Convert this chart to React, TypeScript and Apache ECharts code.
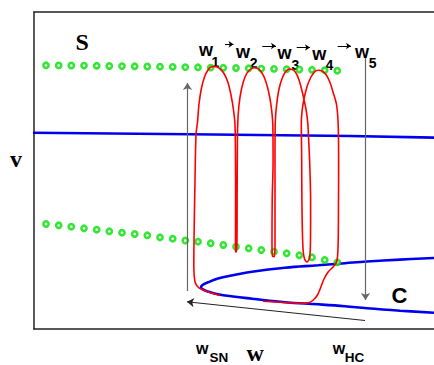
import React, { useEffect, useRef } from "react";
import * as echarts from "echarts";

// periodic-orbit extrema (green rings): shared w positions, upper / lower v
const dotW = [46, 58.7, 71.3, 84, 96.7, 109.3, 122, 134.7, 147.3, 160, 172.7, 185.3, 198, 210.7, 223.3, 236, 248.7, 261.3, 274, 286.7, 299.3, 312, 324.7, 337.3];
const upperDotV = [65.3, 65.4, 65.5, 65.6, 65.8, 66, 66.1, 66.3, 66.5, 66.7, 66.9, 67.1, 67.3, 67.6, 67.8, 68, 68.3, 68.6, 68.9, 69.2, 69.5, 69.8, 70.2, 70.7];
const lowerDotV = [224, 225.3, 226.7, 228.3, 229.7, 231.3, 232.7, 234, 235.3, 237.3, 238.7, 240.5, 241.7, 243.3, 245, 246.7, 248.3, 250, 251.7, 253.3, 255.3, 257.3, 260, 262.3];

// blue equilibrium branches
const upperBranch = [[33, 132.8], [190, 134.3], [350, 136], [434, 137.6]];
const foldBranch = [
  [434, 258], [400, 259.6], [367, 261.5], [345, 263.2], [318, 265.3], [285, 267.7], [252, 271.7], [233, 275.3], [218, 278.6], [208, 282.3], [202.5, 285], [201, 287.3],
  [203, 289.5], [209, 291.8], [218, 294.3], [233, 296.5], [252, 298.7], [285, 302.3], [318, 304.3], [345, 306.2], [367, 308.3], [400, 310.7], [434, 312.7],
];

// red trajectory
const trajectory = [
  [220, 295.5], [210, 292.5], [202, 289.5], [197.5, 286.5], [195.2, 282.5], [194.2, 276], [193.8, 265], [194, 240], [195, 180], [196, 135], [197.5, 122],
  [199, 104], [201.3, 89], [204.3, 77.5], [208, 70], [212, 66.6], [216, 66.6], [220, 68.8], [224, 73.5], [227.8, 82], [231, 95], [233.5, 110], [235, 125],
  [235.5, 160], [235.6, 200], [235.5, 240], [235.6, 251.5], [236.4, 252], [237, 240], [237.1, 200], [237.3, 160], [237.7, 125], [239, 105], [241.5, 89],
  [245, 77], [249.3, 70.3], [254, 67.8], [258.3, 68.8], [262, 73], [265.3, 80], [268.3, 90.5], [271, 105], [272.8, 125], [273.1, 160], [272.2, 200],
  [272, 245], [272.6, 256.4], [274.3, 256.6], [275, 245], [275, 200], [275, 160], [275.2, 125], [276.6, 105], [279, 89], [282.5, 77.5], [286, 71.2],
  [289.3, 69.1], [292.5, 69.6], [295.5, 72.3], [298.5, 78.5], [301.3, 88], [304, 99.5], [306.3, 111], [307.8, 123], [308.4, 135], [309.6, 160],
  [310.6, 200], [310.5, 240], [309.6, 257.5], [307, 262], [304.4, 258.5], [302.8, 245], [301.9, 200], [301.7, 160], [301.4, 135], [301.3, 123],
  [302.2, 110], [304.2, 98], [307.2, 86], [311, 77], [314.8, 71.6], [318.3, 70.2], [322, 71], [326, 74.5], [329.8, 82], [333.3, 93], [336.6, 105],
  [338.2, 125], [338.6, 160], [338.5, 200], [338.1, 245], [336.8, 261.5], [333.3, 266.7], [328.3, 271.7], [324, 279], [320.5, 288], [317.5, 295],
  [313.3, 300], [308.3, 302.7], [300, 303.2], [285, 302.5], [263, 301.2],
];

// arrows
const riseArrow = [[187.5, 291], [187.5, 83]];
const dropArrow = [[365.5, 58], [365.5, 300]];
const slideArrow = [[365, 320.5], [187, 301.8]];
const stepArrows = [
  [[225, 44.3], [233.5, 44.3]],
  [[262.3, 46], [276, 46]],
  [[296.7, 47.5], [310, 47.5]],
  [[337.7, 46], [351, 46]],
];

const SANS = "'Liberation Sans', Arial, Helvetica, sans-serif";
const SERIF = "'Liberation Serif', 'Times New Roman', serif";

function label(text: string, x: number, base: number, size: number, serif = false) {
  const c = serif ? 0.3375 : 0.3465;
  return {
    type: "text",
    x,
    y: base - c * size,
    silent: true,
    style: {
      text,
      fontSize: size,
      fontWeight: "bold",
      fontFamily: serif ? SERIF : SANS,
      fill: "#000",
      textAlign: "left",
      textVerticalAlign: "middle",
      align: "left",
      verticalAlign: "middle",
    },
  };
}

export default function App() {
  const ref = useRef<HTMLDivElement>(null);
  useEffect(() => {
    if (!ref.current) return;
    const chart = echarts.init(ref.current, undefined, { renderer: "svg" });
    const axisBase = {
      type: "value" as const,
      min: 34,
      max: 434,
      axisTick: { show: false },
      axisLabel: { show: false },
      splitLine: { show: false },
      axisLine: { show: true, lineStyle: { color: "#222", width: 1.5 } },
    };
    chart.setOption({
      animation: false,
      backgroundColor: "#fff",
      grid: { left: 34, right: 0, top: 12, bottom: 36 },
      xAxis: [
        { ...axisBase, position: "bottom" },
        { ...axisBase, position: "top" },
      ],
      yAxis: {
        type: "value",
        inverse: true,
        min: 12,
        max: 329,
        axisTick: { show: false },
        axisLabel: { show: false },
        splitLine: { show: false },
        axisLine: { show: true, lineStyle: { color: "#222", width: 1.5 } },
      },
      series: [
        {
          type: "line",
          data: upperBranch,
          showSymbol: false,
          lineStyle: { color: "#0000ee", width: 2.6 },
          z: 2,
        },
        {
          type: "line",
          data: foldBranch,
          smooth: 0.4,
          showSymbol: false,
          lineStyle: { color: "#0000ee", width: 2.6 },
          z: 2,
        },
        {
          type: "scatter",
          data: dotW.map((w, i) => [w, upperDotV[i]]),
          symbol: "circle",
          symbolSize: 5.2,
          itemStyle: { color: "#fff", borderColor: "#00e000", borderWidth: 2.6 },
          z: 3,
        },
        {
          type: "scatter",
          data: dotW.map((w, i) => [w, lowerDotV[i]]),
          symbol: "circle",
          symbolSize: 5.2,
          itemStyle: { color: "#fff", borderColor: "#00e000", borderWidth: 2.6 },
          z: 3,
        },
        {
          type: "line",
          data: trajectory,
          smooth: 0.3,
          showSymbol: false,
          lineStyle: { color: "#ff0000", width: 1.6 },
          z: 4,
        },
        {
          type: "lines",
          coordinateSystem: "cartesian2d",
          symbol: ["none", "arrow"],
          symbolSize: 7,
          lineStyle: { color: "#666", width: 1.2, opacity: 1 },
          data: [{ coords: riseArrow }, { coords: dropArrow }],
          z: 5,
        },
        {
          type: "lines",
          coordinateSystem: "cartesian2d",
          symbol: ["none", "arrow"],
          symbolSize: 7,
          lineStyle: { color: "#222", width: 1, opacity: 1 },
          data: [{ coords: slideArrow }],
          z: 5,
        },
        {
          type: "lines",
          coordinateSystem: "cartesian2d",
          symbol: ["none", "arrow"],
          symbolSize: 5,
          lineStyle: { color: "#000", width: 1.2, opacity: 1 },
          data: stepArrows.map((c) => ({ coords: c })),
          z: 5,
        },
      ],
      graphic: [
        label("w", 199, 56.6, 18),
        label("1", 211.5, 66.7, 14),
        label("w", 236, 58.3, 18),
        label("2", 249.8, 68.3, 14),
        label("w", 277.5, 59.3, 18),
        label("3", 291.4, 70, 14),
        label("w", 312.3, 60, 18),
        label("4", 325.6, 70, 14),
        label("w", 355, 58.3, 18),
        label("5", 368.7, 68.3, 14),
        label("w", 196, 354.5, 16),
        label("SN", 209.5, 362.5, 13.5),
        label("w", 332.7, 354.5, 16),
        label("HC", 344.8, 362.5, 13.5),
        label("S", 75.5, 50, 24, true),
        label("v", 10, 166.7, 24, true),
        label("w", 246.5, 361.5, 24, true),
        label("C", 391.5, 302.7, 22),
      ],
    });
    return () => chart.dispose();
  }, []);
  return (
    <div
      ref={ref}
      style={{ position: "absolute", left: 0, top: 0, width: 434, height: 365 }}
    />
  );
}
